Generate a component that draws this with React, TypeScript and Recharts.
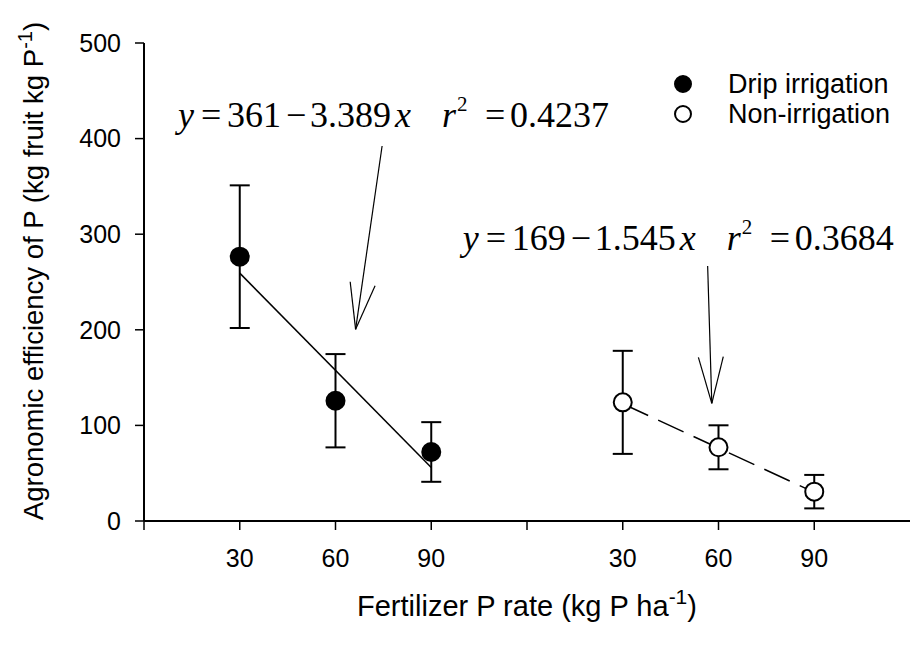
import React from "react"
import {
    ComposedChart,
    Scatter,
    Line,
    XAxis,
    YAxis,
    ErrorBar,
    ReferenceLine,
    ReferenceDot,
    Legend,
} from "recharts"

// P rates applied in each group; the non-irrigation group sits after the drip group on one axis
const rates = [30, 60, 90]
const groupOffset = 120

const dripAE = [276.5, 125.8, 72.2]
const dripErr = [74.6, 48.8, 31.2]
const nonAE = [124.1, 77.1, 30.7]
const nonErr = [53.9, 23.0, 17.5]

// regression line ends (at 30 and 90 kg P)
const dripFit = [259.3, 56.0]
const nonFit = [122.7, 30.0]

const xTicks = [0, 30, 60, 90, 120, 150, 180, 210]
const xTickLabels = ["", "30", "60", "90", "", "30", "60", "90"]
const yTicks = [0, 100, 200, 300, 400, 500]

const legendItems = [
    { name: "Drip irrigation", fill: "#000" },
    { name: "Non-irrigation", fill: "#fff" },
]

const equations = [
    { at: { x: 10.65, y: 412.4 }, a: "361", b: "3.389", r2: "0.4237" },
    { at: { x: 99.9, y: 283.5 }, a: "169", b: "1.545", r2: "0.3684" },
]

const arrows = [
    {
        from: { x: 74.6, y: 392.3 },
        tip: { x: 66.3, y: 200.5 },
        left: { x: 64.6, y: 250.3 },
        right: { x: 72.4, y: 246.1 },
    },
    {
        from: { x: 176.6, y: 266.7 },
        tip: { x: 177.9, y: 123.1 },
        left: { x: 173.7, y: 171.2 },
        right: { x: 181.5, y: 171.9 },
    },
]

const dripData = rates.map((r, i) => ({ x: r, y: dripAE[i], err: dripErr[i] }))
const nonData = rates.map((r, i) => ({ x: r + groupOffset, y: nonAE[i], err: nonErr[i] }))
const dripFitData = [
    { x: rates[0], y: dripFit[0] },
    { x: rates[2], y: dripFit[1] },
]
const nonFitData = [
    { x: rates[0] + groupOffset, y: nonFit[0] },
    { x: rates[2] + groupOffset, y: nonFit[1] },
]

const sans = "'Liberation Sans', Arial, sans-serif"
const serif = "'Liberation Serif', 'Times New Roman', serif"

const dot = (fill: string) => (p: any) => (
    <circle cx={p.cx} cy={p.cy} r={9} fill={fill} stroke="#000" strokeWidth={2} />
)

const EqText = ({ cx, cy, eq }: any) => (
    <text x={cx} y={cy} fontFamily={serif} fontSize={36} fill="#000">
        <tspan x={cx} fontStyle="italic">y</tspan>
        <tspan x={cx + 23}>=</tspan>
        <tspan x={cx + 49}>{eq.a}</tspan>
        <tspan x={cx + 108}>−</tspan>
        <tspan x={cx + 132}>{eq.b}</tspan>
        <tspan x={cx + 217} fontStyle="italic">x</tspan>
        <tspan x={cx + 264} fontStyle="italic">r</tspan>
        <tspan x={cx + 279} dy={-16} fontSize={21}>2</tspan>
        <tspan x={cx + 307} dy={16}>=</tspan>
        <tspan x={cx + 332}>{eq.r2}</tspan>
    </text>
)

const renderXTitle = (props: any) => {
    const vb = props.viewBox
    const cx = vb.x + vb.width / 2
    return (
        <text x={cx} y={vb.y + 95} textAnchor="middle" fontFamily={sans} fontSize={29} fill="#000">
            Fertilizer P rate (kg P ha
            <tspan dy={-12} fontSize={21}>-1</tspan>
            <tspan dy={12}>)</tspan>
        </text>
    )
}

const renderYTitle = (props: any) => {
    const vb = props.viewBox
    const cy = vb.y + vb.height / 2 - 11
    return (
        <text
            x={43}
            y={cy}
            transform={`rotate(-90, 43, ${cy})`}
            textAnchor="middle"
            fontFamily={sans}
            fontSize={27.5}
            fill="#000"
        >
            Agronomic efficiency of P (kg fruit kg P
            <tspan dy={-11} fontSize={20}>-1</tspan>
            <tspan dy={11}>)</tspan>
        </text>
    )
}

const renderLegend = () => (
    <div style={{ fontFamily: sans, fontSize: 27, color: "#000", lineHeight: "30px" }}>
        {legendItems.map((item) => (
            <div key={item.name} style={{ display: "flex", alignItems: "center", height: 30 }}>
                <svg width={50} height={30} style={{ display: "block" }}>
                    <circle cx={22} cy={15} r={8} fill={item.fill} stroke="#000" strokeWidth={2} />
                </svg>
                <span style={{ marginLeft: 17 }}>{item.name}</span>
            </div>
        ))}
    </div>
)

export default function App() {
    return (
        <div style={{ position: "absolute", left: 0, top: 0 }}>
            <ComposedChart
                width={910}
                height={647}
                margin={{ top: 43, right: 0, bottom: 0, left: 0 }}
            >
                <XAxis
                    dataKey="x"
                    type="number"
                    domain={[0, 240]}
                    allowDataOverflow
                    ticks={xTicks}
                    interval={0}
                    tickFormatter={(v) => xTickLabels[xTicks.indexOf(v)] ?? ""}
                    height={126}
                    tickSize={9}
                    tickMargin={19}
                    tick={{ fontSize: 25, fill: "#000", fontFamily: sans }}
                    axisLine={{ stroke: "#000", strokeWidth: 2 }}
                    tickLine={{ stroke: "#000", strokeWidth: 1.5 }}
                    label={renderXTitle}
                />
                <YAxis
                    type="number"
                    domain={[0, 500]}
                    allowDataOverflow
                    ticks={yTicks}
                    interval={0}
                    width={144}
                    tickSize={9}
                    tickMargin={14}
                    tick={{ fontSize: 25, fill: "#000", fontFamily: sans }}
                    axisLine={{ stroke: "#000", strokeWidth: 2 }}
                    tickLine={{ stroke: "#000", strokeWidth: 1.5 }}
                    label={renderYTitle}
                />
                <Legend
                    content={renderLegend}
                    layout="horizontal"
                    verticalAlign="middle"
                    align="center"
                    wrapperStyle={{ left: 661, top: 69, right: "auto", bottom: "auto", width: 249 }}
                />
                <Line
                    data={dripFitData}
                    dataKey="y"
                    type="linear"
                    stroke="#000"
                    strokeWidth={1.5}
                    dot={false}
                    activeDot={false}
                    legendType="none"
                    isAnimationActive={false}
                />
                <Line
                    data={nonFitData}
                    dataKey="y"
                    type="linear"
                    stroke="#000"
                    strokeWidth={1.5}
                    strokeDasharray="28 11"
                    dot={false}
                    activeDot={false}
                    legendType="none"
                    isAnimationActive={false}
                />
                <Scatter
                    name="Drip irrigation"
                    data={dripData}
                    dataKey="y"
                    shape={dot("#000")}
                    isAnimationActive={false}
                >
                    <ErrorBar dataKey="err" direction="y" width={10} stroke="#000" strokeWidth={2} />
                </Scatter>
                <Scatter
                    name="Non-irrigation"
                    data={nonData}
                    dataKey="y"
                    shape={dot("#fff")}
                    isAnimationActive={false}
                >
                    <ErrorBar dataKey="err" direction="y" width={10} stroke="#000" strokeWidth={2} />
                </Scatter>
                {arrows.map((a, i) => (
                    <React.Fragment key={i}>
                        <ReferenceLine segment={[a.from, a.tip]} stroke="#000" strokeWidth={1.2} />
                        <ReferenceLine segment={[a.left, a.tip]} stroke="#000" strokeWidth={1.2} />
                        <ReferenceLine segment={[a.right, a.tip]} stroke="#000" strokeWidth={1.2} />
                    </React.Fragment>
                ))}
                {equations.map((eq, i) => (
                    <ReferenceDot
                        key={i}
                        x={eq.at.x}
                        y={eq.at.y}
                        r={0}
                        shape={(p: any) => <EqText cx={p.cx} cy={p.cy} eq={eq} />}
                    />
                ))}
            </ComposedChart>
        </div>
    )
}
